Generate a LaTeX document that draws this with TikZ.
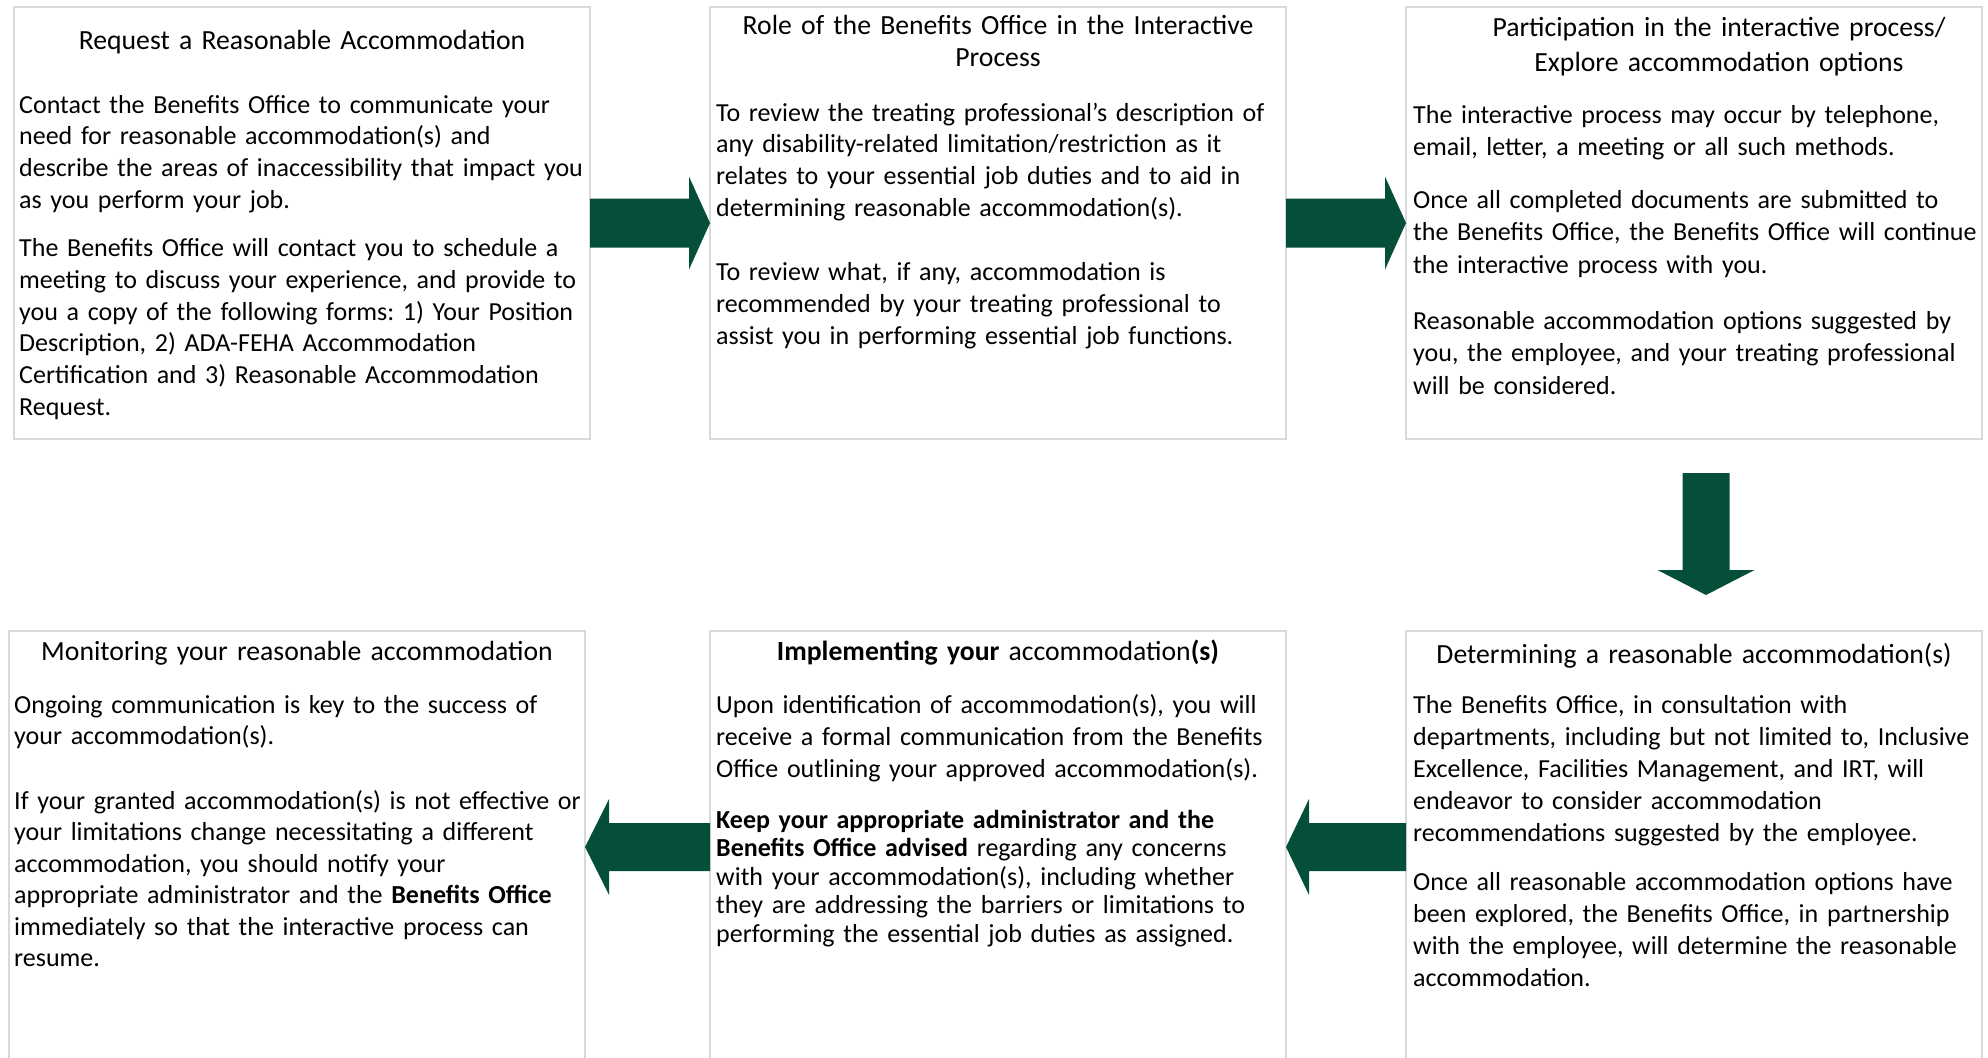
\documentclass[tikz,border=0pt]{standalone}
\usepackage{fontspec}
\setmainfont{Carlito}
\frenchspacing
\definecolor{flowgreen}{RGB}{5, 79, 58}
\definecolor{boxgray}{RGB}{217, 217, 217}
\usetikzlibrary{positioning, calc}
\newcommand{\stepbodyfont}{\fontsize{26}{31.7}\selectfont}
\newcommand{\steptitlefont}{\fontsize{27.7}{31.7}\selectfont}
% block arrow: from, to, half shaft, half head, head length
\newcommand{\blockarrow}[5]{%
    \coordinate (neck) at ($(#2)!#5!(#1)$);
    \fill[flowarrow] ($(#1)!#3!90:(#2)$) -- ($(neck)!#3!-90:(#1)$) -- ($(neck)!#4!-90:(#1)$) -- (#2)
        -- ($(neck)!#4!90:(#1)$) -- ($(neck)!#3!90:(#1)$) -- ($(#1)!#3!-90:(#2)$) -- cycle;}
\tikzset{
    stepbox/.style={rectangle, draw=boxgray, line width=1.5pt, fill=white, outer sep=0pt,
                    minimum width=576pt, minimum height=432pt, inner sep=0pt, anchor=north west},
    boxtitle/.style={font=\steptitlefont, text width=576pt, align=center, inner sep=0pt},
    boxbody/.style={font=\stepbodyfont, text width=620pt, align=left, inner sep=0pt},
    flowarrow/.style={fill=flowgreen},
}
\begin{document}
\begin{tikzpicture}[x=1pt, y=-1pt]
            \useasboundingbox (0,0) rectangle (1988,1057);

            % Boxes, top row left to right, bottom row right to left
            \node[stepbox] (request) at (14,7) {};
            \node[stepbox, right=120pt of request] (role) {};
            \node[stepbox, right=120pt of role] (part) {};
            \node[stepbox, below=192pt of part] (decide) {};
            \node[stepbox, left=120pt of decide] (implement) {};
            \node[stepbox, left=125pt of implement] (monitor) {};

            % Request
            \node[boxtitle, anchor=base] (request-title) at ([yshift=-42pt]request.north) {Request a Reasonable Accommodation};
            \node[boxbody, anchor=base west] (request-text) at ([xshift=5pt, yshift=-106pt]request.north west)
                {Contact the Benefits Office to communicate your\\
                 need for reasonable accommodation(s) and\\
                 describe the areas of inaccessibility that impact you\\
                 as you perform your job.\\[17pt]
                 The Benefits Office will contact you to schedule a\\
                 meeting to discuss your experience, and provide to\\
                 you a copy of the following forms: 1) Your Position\\
                 Description, 2) ADA-FEHA Accommodation\\
                 Certification and 3) Reasonable Accommodation\\
                 Request.};

            % Role of the office
            \node[boxtitle, anchor=base] (role-title) at ([yshift=-28pt]role.north) {Role of the Benefits Office in the Interactive\\ Process};
            \node[boxbody, anchor=base west] (role-text) at ([xshift=6pt, yshift=-114pt]role.north west)
                {To review the treating professional’s description of\\
                 any disability-related limitation/restriction as it\\
                 relates to your essential job duties and to aid in\\
                 determining reasonable accommodation(s).\\[33pt]
                 To review what, if any, accommodation is\\
                 recommended by your treating professional to\\
                 assist you in performing essential job functions.};

            % Participation
            \node[boxtitle, anchor=base] (part-title) at ([xshift=25pt, yshift=-30pt]part.north) {Participation in the interactive process/\\[3pt] Explore accommodation options};
            \node[boxbody, anchor=base west, font=\fontsize{26}{32.3}\selectfont] (part-text) at ([xshift=7pt, yshift=-116pt]part.north west)
                {The interactive process may occur by telephone,\\
                 email, letter, a meeting or all such methods.\\[21pt]
                 Once all completed documents are submitted to\\
                 the Benefits Office, the Benefits Office will continue\\
                 the interactive process with you.\\[24pt]
                 Reasonable accommodation options suggested by\\
                 you, the employee, and your treating professional\\
                 will be considered.};

            % Determining
            \node[boxtitle, anchor=base] (decide-title) at ([yshift=-32pt]decide.north) {Determining a reasonable accommodation(s)};
            \node[boxbody, anchor=base west, font=\fontsize{26}{32}\selectfont] (decide-text) at ([xshift=7pt, yshift=-82pt]decide.north west)
                {The Benefits Office, in consultation with\\
                 departments, including but not limited to, Inclusive\\
                 Excellence, Facilities Management, and IRT, will\\
                 endeavor to consider accommodation\\
                 recommendations suggested by the employee.\\[17pt]
                 Once all reasonable accommodation options have\\
                 been explored, the Benefits Office, in partnership\\
                 with the employee, will determine the reasonable\\
                 accommodation.};

            % Implementing
            \node[boxtitle, anchor=base] (implement-title) at ([yshift=-29pt]implement.north) {\textbf{Implementing your} accommodation\textbf{(s)}};
            \node[boxbody, anchor=base west, font=\fontsize{26}{32}\selectfont] (implement-text) at ([xshift=6pt, yshift=-82pt]implement.north west)
                {Upon identification of accommodation(s), you will\\
                 receive a formal communication from the Benefits\\
                 Office outlining your approved accommodation(s).};
            \node[boxbody, anchor=base west, font=\fontsize{26}{28.5}\selectfont] (implement-keep) at ([xshift=6pt, yshift=-197pt]implement.north west)
                {\textbf{Keep your appropriate administrator and the}\\
                 \textbf{Benefits Office advised} regarding any concerns\\
                 with your accommodation(s), including whether\\
                 they are addressing the barriers or limitations to\\
                 performing the essential job duties as assigned.};

            % Monitoring
            \node[boxtitle, anchor=base] (monitor-title) at ([yshift=-29pt]monitor.north) {Monitoring your reasonable accommodation};
            \node[boxbody, anchor=base west, font=\fontsize{26}{31.5}\selectfont] (monitor-text) at ([xshift=5pt, yshift=-82pt]monitor.north west)
                {Ongoing communication is key to the success of\\
                 your accommodation(s).\\[33pt]
                 If your granted accommodation(s) is not effective or\\
                 your limitations change necessitating a different\\
                 accommodation, you should notify your\\
                 appropriate administrator and the \textbf{Benefits Office}\\
                 immediately so that the interactive process can\\
                 resume.};

            % Arrows
            \coordinate (down-start) at ([xshift=12pt, yshift=-34pt]part.south);
            \coordinate (down-end) at ([xshift=12pt, yshift=36pt]decide.north);
            \blockarrow{request.east}{role.west}{24.5pt}{46.5pt}{21pt}
            \blockarrow{role.east}{part.west}{24.5pt}{46.5pt}{21pt}
            \blockarrow{down-start}{down-end}{23.5pt}{48.5pt}{25pt}
            \blockarrow{decide.west}{implement.east}{24pt}{48pt}{23pt}
            \blockarrow{implement.west}{monitor.east}{24pt}{48pt}{24pt}
        \end{tikzpicture}
\end{document}
